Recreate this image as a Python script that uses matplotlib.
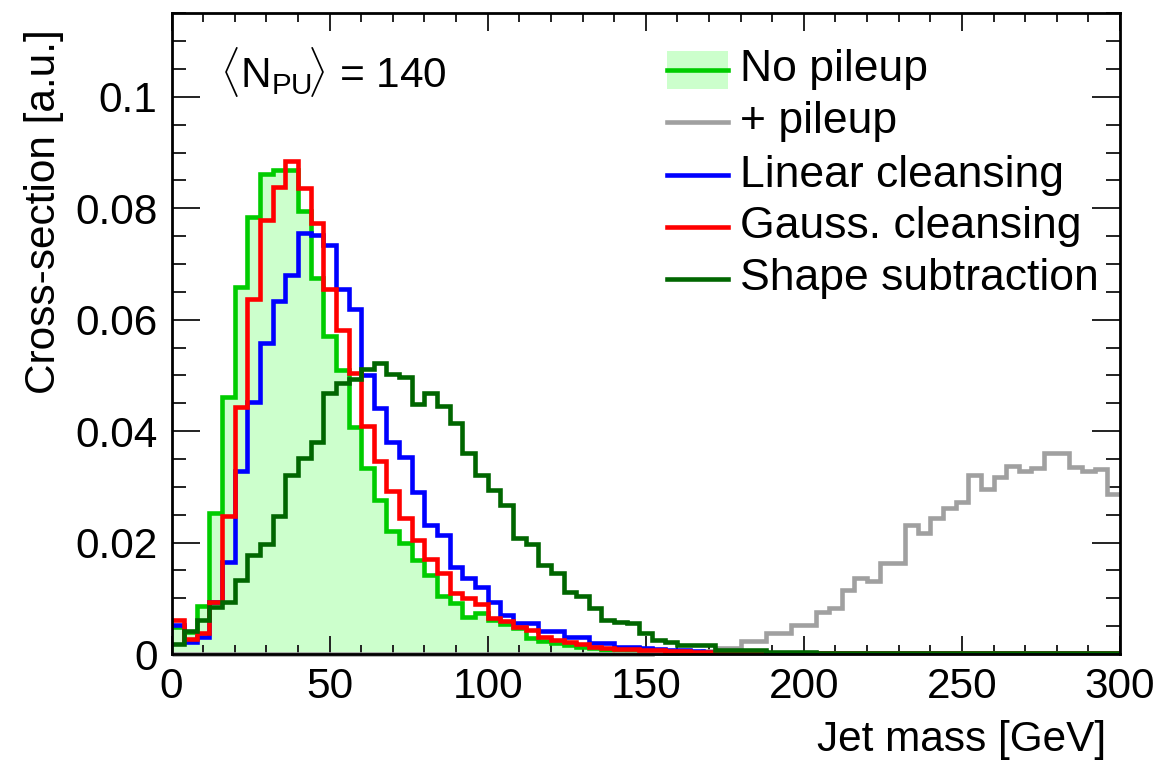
import numpy as np
import matplotlib
matplotlib.use("Agg")
import matplotlib.pyplot as plt
from matplotlib.patches import Rectangle
from matplotlib.lines import Line2D

plt.rcParams['font.family'] = ['Liberation Sans', 'DejaVu Sans']
plt.rcParams['mathtext.fontset'] = 'custom'
plt.rcParams['mathtext.rm'] = 'Liberation Sans'
plt.rcParams['mathtext.it'] = 'Liberation Sans:italic'
plt.rcParams['mathtext.bf'] = 'Liberation Sans:bold'

# ---- data: 75 bins of 4 GeV from 0 to 300 GeV ----
bin_edges = np.linspace(0, 300, 76)

no_pileup = [0.0048, 0.0040, 0.0086, 0.0253, 0.0461, 0.0659, 0.0784, 0.0861, 0.0869, 0.0869,
             0.0796, 0.0674, 0.0570, 0.0510, 0.0408, 0.0333, 0.0277, 0.0221, 0.0199, 0.0169,
             0.0142, 0.0104, 0.0091, 0.0067, 0.0073, 0.0061, 0.0053, 0.0046, 0.0028, 0.0023,
             0.0019, 0.0016, 0.0013, 0.0010, 0.0008, 0.0007, 0.0006, 0.0005, 0.0004, 0.0004,
             0.0003, 0.0002, 0.0002, 0.0002, 0.0002, 0.0002, 0.0001, 0.0001, 0.0001, 0.0001,
             0.0001, 0.0001, 0.0001, 0.0001, 0.0001, 0.0001, 0.0001, 0.0001, 0.0001, 0.0001,
             0.0001, 0.0001, 0.0001, 0.0001, 0.0001, 0.0, 0.0, 0.0, 0.0, 0.0,
             0.0, 0.0, 0.0, 0.0, 0.0]

with_pileup = [0.0, 0.0, 0.0, 0.0, 0.0, 0.0, 0.0, 0.0, 0.0, 0.0,
               0.0, 0.0, 0.0, 0.0, 0.0, 0.0, 0.0, 0.0, 0.0, 0.0,
               0.0, 0.0, 0.0, 0.0, 0.0, 0.0, 0.0, 0.0, 0.0, 0.0,
               0.0, 0.0, 0.0, 0.0, 0.0, 0.0, 0.0, 0.0, 0.0001, 0.0002,
               0.0003, 0.0004, 0.0006, 0.0011, 0.0011, 0.0024, 0.0024, 0.0037, 0.0037, 0.0052,
               0.0052, 0.0076, 0.0082, 0.0115, 0.0136, 0.0131, 0.0164, 0.0164, 0.0232, 0.0218,
               0.0245, 0.0262, 0.0273, 0.0321, 0.0297, 0.0317, 0.0338, 0.0329, 0.0333, 0.0361,
               0.0361, 0.0335, 0.0329, 0.0332, 0.0288]

linear_cleansing = [0.0052, 0.0022, 0.0031, 0.0094, 0.0166, 0.0329, 0.0453, 0.0558, 0.0633, 0.0680,
                    0.0756, 0.0752, 0.0734, 0.0656, 0.0620, 0.0500, 0.0442, 0.0381, 0.0354, 0.0291,
                    0.0232, 0.0214, 0.0157, 0.0136, 0.0121, 0.0094, 0.0070, 0.0056, 0.0056, 0.0042,
                    0.0042, 0.0031, 0.0031, 0.0019, 0.0019, 0.0013, 0.0012, 0.0010, 0.0009, 0.0008,
                    0.0007, 0.0006, 0.0004, 0.0004, 0.0004, 0.0004, 0.0002, 0.0002, 0.0002, 0.0002,
                    0.0002, 0.0001, 0.0001, 0.0001, 0.0001, 0.0001, 0.0001, 0.0001, 0.0001, 0.0001,
                    0.0001, 0.0001, 0.0001, 0.0001, 0.0001, 0.0001, 0.0001, 0.0001, 0.0001, 0.0001,
                    0.0001, 0.0001, 0.0001, 0.0001, 0.0001]

gauss_cleansing = [0.0061, 0.0027, 0.0038, 0.0094, 0.0247, 0.0444, 0.0638, 0.0779, 0.0839, 0.0884,
                   0.0836, 0.0773, 0.0656, 0.0582, 0.0504, 0.0410, 0.0347, 0.0293, 0.0244, 0.0205,
                   0.0170, 0.0145, 0.0109, 0.0100, 0.0090, 0.0065, 0.0060, 0.0049, 0.0043, 0.0031,
                   0.0026, 0.0022, 0.0018, 0.0013, 0.0010, 0.0009, 0.0009, 0.0008, 0.0007, 0.0006,
                   0.0005, 0.0004, 0.0003, 0.0002, 0.0002, 0.0002, 0.0002, 0.0002, 0.0002, 0.0002,
                   0.0002, 0.0001, 0.0001, 0.0001, 0.0001, 0.0001, 0.0001, 0.0001, 0.0001, 0.0001,
                   0.0001, 0.0001, 0.0001, 0.0001, 0.0001, 0.0001, 0.0001, 0.0001, 0.0001, 0.0001,
                   0.0001, 0.0001, 0.0001, 0.0001, 0.0001]

shape_subtraction = [0.0018, 0.0042, 0.0061, 0.0085, 0.0094, 0.0133, 0.0178, 0.0198, 0.0247, 0.0321,
                     0.0351, 0.0381, 0.0468, 0.0486, 0.0493, 0.0512, 0.0523, 0.0503, 0.0497, 0.0449,
                     0.0469, 0.0445, 0.0414, 0.0361, 0.0322, 0.0294, 0.0268, 0.0208, 0.0197, 0.0160,
                     0.0145, 0.0112, 0.0104, 0.0083, 0.0061, 0.0058, 0.0055, 0.0037, 0.0025, 0.0022,
                     0.0016, 0.0016, 0.0016, 0.0008, 0.0008, 0.0008, 0.0008, 0.0004, 0.0004, 0.0004,
                     0.0004, 0.0002, 0.0002, 0.0002, 0.0002, 0.0002, 0.0002, 0.0002, 0.0002, 0.0002,
                     0.0002, 0.0001, 0.0001, 0.0001, 0.0001, 0.0001, 0.0001, 0.0001, 0.0001, 0.0001,
                     0.0001, 0.0001, 0.0001, 0.0001, 0.0001]

legend_labels = ["No pileup", "+ pileup", "Linear cleansing", "Gauss. cleansing", "Shape subtraction"]
y_ticks = [0, 0.02, 0.04, 0.06, 0.08, 0.1]
y_tick_labels = ["0", "0.02", "0.04", "0.06", "0.08", "0.1"]
x_ticks = [0, 50, 100, 150, 200, 250, 300]

# ---- styles ----
FILL = "#ccffcc"
C_NOPU = "#00cc00"
C_PU = "#a0a0a0"
C_LIN = "#0000ff"
C_GAU = "#ff0000"
C_SHP = "#006600"
LW = 3.3
FS = 30.5
FS_LEG = 32

W, H = 1163, 766
fig = plt.figure(figsize=(W / 100, H / 100), dpi=100)
ax = fig.add_axes([171.5 / W, (H - 654) / H, 948.5 / W, 640.7 / H])

ax.stairs(no_pileup, bin_edges, fill=True, facecolor=FILL, edgecolor='none', zorder=1)
ax.stairs(no_pileup, bin_edges, baseline=None, color=C_NOPU, lw=LW, zorder=2)
ax.stairs(with_pileup, bin_edges, baseline=None, color=C_PU, lw=LW, zorder=3, clip_on=False)
ax.stairs(linear_cleansing, bin_edges, baseline=None, color=C_LIN, lw=LW, zorder=4)
ax.stairs(gauss_cleansing, bin_edges, baseline=None, color=C_GAU, lw=LW, zorder=5)
ax.stairs(shape_subtraction, bin_edges, baseline=None, color=C_SHP, lw=LW, zorder=6)

ax.set_xlim(0, 300)
ax.set_ylim(0, 0.115)

ax.set_xticks(x_ticks)
ax.set_xticklabels([str(t) for t in x_ticks])
ax.set_xticks(np.arange(0, 301, 10), minor=True)
ax.set_yticks(y_ticks)
ax.set_yticklabels(y_tick_labels)
ax.set_yticks(np.arange(0, 0.1151, 0.005), minor=True)

ax.tick_params(axis='x', which='both', direction='in', top=True, bottom=True,
               labelsize=FS, pad=9, width=1.4, color='#222222')
ax.tick_params(axis='x', which='major', length=13.3)
ax.tick_params(axis='x', which='minor', length=6.8)
ax.tick_params(axis='y', which='both', direction='in', left=True, right=True,
               labelsize=FS, pad=10, width=1.4, color='#222222')
ax.tick_params(axis='y', which='major', length=20)
ax.tick_params(axis='y', which='minor', length=10)
for s in ax.spines.values():
    s.set_linewidth(2.0)
    s.set_zorder(10)

fig.text(1106 / W, 1 - 740 / H, "Jet mass [GeV]", ha='right', va='center', fontsize=FS)
fig.text(44 / W, 1 - 29 / H, "Cross-section [a.u.]", ha='center', va='top',
         rotation=90, fontsize=FS)

# pileup annotation
def px(X, Y):
    return ((X - 171.5) / 948.5, (654 - Y) / 640.7)

ax.text(*px(220, 72), r"$\langle\mathrm{N}_{\mathrm{PU}}\!\rangle$ = 140", transform=ax.transAxes,
        ha='left', va='center', fontsize=FS)

# legend (drawn manually)
row_y = [70, 122, 175, 227, 279]
colors = [C_NOPU, C_PU, C_LIN, C_GAU, C_SHP]
x0, x1, xt = 667, 728, 740
for i, (lab, col) in enumerate(zip(legend_labels, colors)):
    yy = row_y[i]
    if i == 0:
        bl = px(x0, yy + 19)
        tr = px(x1, yy - 19)
        ax.add_patch(Rectangle(bl, tr[0] - bl[0], tr[1] - bl[1], transform=ax.transAxes,
                               facecolor=FILL, edgecolor='none', zorder=7))
    a = px(x0, yy)
    b = px(x1, yy)
    ax.add_line(Line2D([a[0], b[0]], [a[1], b[1]], transform=ax.transAxes,
                       color=col, lw=LW, zorder=8))
    t = px(xt, yy)
    ax.text(t[0], t[1], lab, transform=ax.transAxes, ha='left', va='center',
            fontsize=FS_LEG, zorder=9)

fig.savefig("out.png", dpi=100)
